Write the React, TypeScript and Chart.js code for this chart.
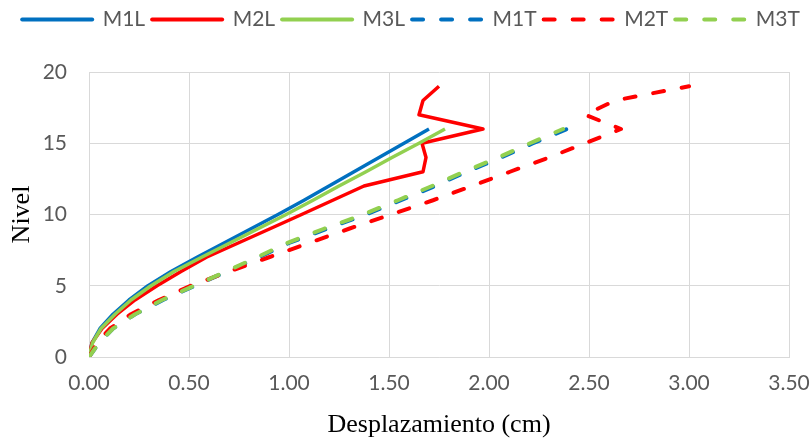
import React, { useEffect, useRef } from 'react';
import { Chart, registerables } from 'chart.js';

Chart.register(...registerables);

// Levels (Nivel)
const levels16 = [0, 1, 2, 3, 4, 5, 6, 7, 8, 9, 10, 11, 12, 13, 14, 15, 16];
const levels19 = [0, 1, 2, 3, 4, 5, 6, 7, 8, 9, 10, 11, 12, 13, 14, 15, 16, 17, 18, 19];

// Displacements (cm)
const m1L = [0, 0.015, 0.055, 0.12, 0.20, 0.295, 0.41, 0.54, 0.675, 0.81, 0.945, 1.075, 1.20, 1.325, 1.45, 1.575, 1.70];
const m2L = [0, 0.015, 0.065, 0.14, 0.23, 0.34, 0.46, 0.587, 0.746, 0.905, 1.063, 1.219, 1.375, 1.67, 1.685, 1.665, 1.97, 1.65, 1.67, 1.75];
const m3L = [0, 0.018, 0.06, 0.13, 0.21, 0.31, 0.425, 0.563, 0.704, 0.845, 0.986, 1.12, 1.25, 1.385, 1.515, 1.65, 1.78];
const m1T = [0, 0.05, 0.12, 0.23, 0.37, 0.53, 0.69, 0.85, 1.00, 1.19, 1.385, 1.56, 1.73, 1.89, 2.06, 2.22, 2.39];
const m2T = [0, 0.04, 0.105, 0.21, 0.35, 0.51, 0.70, 0.90, 1.10, 1.30, 1.51, 1.72, 1.915, 2.105, 2.30, 2.48, 2.66, 2.48, 2.63, 3.00];
const m3T = [0, 0.05, 0.12, 0.23, 0.365, 0.525, 0.685, 0.84, 0.99, 1.175, 1.37, 1.545, 1.715, 1.875, 2.045, 2.205, 2.37];

const seriesNames = ['M1L', 'M2L', 'M3L', 'M1T', 'M2T', 'M3T'];
const xTickLabels = ['0.00', '0.50', '1.00', '1.50', '2.00', '2.50', '3.00', '3.50'];
const yTickLabels = ['0', '5', '10', '15', '20'];

const BLUE = '#0070C0';
const RED = '#FF0000';
const GREEN = '#92D050';
const TICK_COLOR = '#595959';
const GRID_COLOR = '#d9d9d9';

const pair = (xs: number[], ys: number[]) => xs.map((x, i) => ({ x, y: ys[i] }));

const legendTweak = {
  id: 'legendTweak',
  beforeInit(chart: any) {
    const legend = chart.legend;
    if (!legend) return;
    const origFit = legend.fit;
    legend.fit = function () {
      origFit.call(this);
      this.height = 72;
    };
    const origDraw = legend.draw;
    legend.draw = function () {
      const ctx = this.ctx;
      ctx.save();
      ctx.translate(5, 2);
      origDraw.call(this);
      ctx.restore();
    };
  },
};

export default function App() {
  const ref = useRef<HTMLCanvasElement | null>(null);

  useEffect(() => {
    if (!ref.current) return;
    const tickFont = { family: 'Lato', size: 21 };
    const legendFont = { family: 'Lato', size: 21 };
    const titleFont = { family: '"Liberation Serif", "Times New Roman", serif', size: 26 };
    const mk = (i: number, xs: number[], ys: number[], color: string, dashed: boolean) => ({
      label: seriesNames[i],
      data: pair(xs, ys),
      borderColor: color,
      backgroundColor: color,
      borderWidth: dashed ? 4 : 3.5,
      borderDash: dashed ? [11, 18] : [],
      borderCapStyle: dashed ? 'round' : 'butt',
      borderJoinStyle: 'round',
      pointRadius: 0,
      pointStyle: 'line',
      showLine: true,
      tension: 0,
      fill: false,
      order: 6 - i,
    });
    const chart = new Chart(ref.current, {
      type: 'scatter',
      data: {
        datasets: [
          mk(0, m1L, levels16, BLUE, false),
          mk(1, m2L, levels19, RED, false),
          mk(2, m3L, levels16, GREEN, false),
          mk(3, m1T, levels16, BLUE, true),
          mk(4, m2T, levels19, RED, true),
          mk(5, m3T, levels16, GREEN, true),
        ] as any,
      },
      options: {
        responsive: false,
        animation: false,
        layout: { padding: { left: 0, right: 0, top: 0, bottom: 0 } },
        plugins: {
          legend: {
            position: 'top',
            labels: {
              usePointStyle: true,
              pointStyle: 'line',
              pointStyleWidth: 70,
              boxWidth: 70,
              padding: 7,
              color: TICK_COLOR,
              font: legendFont,
              sort: (a: any, b: any) => a.datasetIndex - b.datasetIndex,
              generateLabels: (c: any) => {
                const items = (Chart.defaults as any).plugins.legend.labels.generateLabels(c);
                return items.map((it: any) => {
                  const ds = c.data.datasets[it.datasetIndex];
                  return {
                    ...it,
                    pointStyle: 'line',
                    lineDash: ds.borderDash,
                    lineCap: 'round',
                    lineWidth: 4,
                    strokeStyle: ds.borderColor,
                    fillStyle: ds.borderColor,
                  };
                });
              },
            },
          },
          tooltip: { enabled: false },
        },
        scales: {
          x: {
            type: 'linear',
            min: 0,
            max: 3.5,
            ticks: {
              stepSize: 0.5,
              padding: 14,
              color: TICK_COLOR,
              font: tickFont,
              callback: (_v: any, i: number) => xTickLabels[i],
            },
            grid: { color: GRID_COLOR, drawTicks: false, lineWidth: 1 },
            border: { color: GRID_COLOR },
            title: {
              display: true,
              text: 'Desplazamiento (cm)',
              color: '#000',
              font: titleFont,
              padding: { top: 0, bottom: 0 },
            },
            afterFit: (s: any) => {
              s.height = 84;
              s.paddingLeft = 0;
              s.paddingRight = 23;
            },
          },
          y: {
            type: 'linear',
            min: 0,
            max: 20,
            ticks: {
              stepSize: 5,
              padding: 22,
              color: TICK_COLOR,
              font: tickFont,
              callback: (_v: any, i: number) => yTickLabels[i],
            },
            grid: { color: GRID_COLOR, drawTicks: false, lineWidth: 1 },
            border: { color: GRID_COLOR },
            title: {
              display: true,
              text: 'Nivel',
              color: '#000',
              font: titleFont,
              padding: { top: 7, bottom: 0 },
            },
            afterFit: (s: any) => {
              s.width = 89;
            },
          },
        },
      } as any,
      plugins: [legendTweak],
    });
    return () => chart.destroy();
  }, []);

  return (
    <div style={{ position: 'absolute', left: 0, top: 0, width: 812, height: 441, background: '#fff' }}>
      <canvas ref={ref} width={812} height={441} style={{ display: 'block' }} />
    </div>
  );
}
